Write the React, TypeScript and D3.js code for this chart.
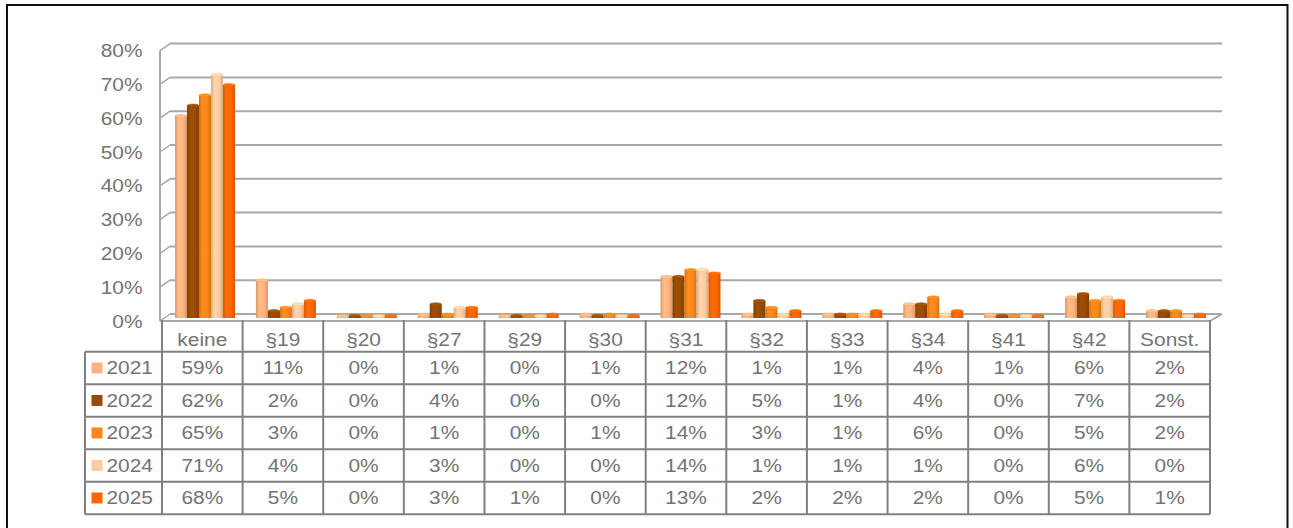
import React from "react";
import * as d3 from "d3";

const categories = ["keine", "§19", "§20", "§27", "§29", "§30", "§31", "§32", "§33", "§34", "§41", "§42", "Sonst."];
const years = ["2021", "2022", "2023", "2024", "2025"];
const v2021 = [59, 11, 0, 1, 0, 1, 12, 1, 1, 4, 1, 6, 2];
const v2022 = [62, 2, 0, 4, 0, 0, 12, 5, 1, 4, 0, 7, 2];
const v2023 = [65, 3, 0, 1, 0, 1, 14, 3, 1, 6, 0, 5, 2];
const v2024 = [71, 4, 0, 3, 0, 0, 14, 1, 1, 1, 0, 6, 0];
const v2025 = [68, 5, 0, 3, 1, 0, 13, 2, 2, 2, 0, 5, 1];
const seriesValues = [v2021, v2022, v2023, v2024, v2025];
const colors = ["#FFB381", "#984B00", "#FF8619", "#FFCBA0", "#FF6600"];
const yTicks = [0, 10, 20, 30, 40, 50, 60, 70, 80];

const W = 1293;
const H = 528;
const TEXT = "#737373";
const GRID = "#a8a8a8";
const TABLE = "#808080";
const FONT = "'Liberation Sans', Arial, sans-serif";
const FS = 18;
const SX = 1.16;

const tableLeft = 85;
const colLeft = 162;
const colRight = 1210;
const headerTop = 320;
const rowTop = 351.7;
const rowH = 32.5;
const dx = 10;
const dy = -7;

export default function App() {
  const x = d3.scaleBand<string>().domain(categories).range([colLeft, colRight]).padding(0);
  const yFront = d3.scaleLinear().domain([0, 80]).range([321, 50.6]);
  const yBar = d3.scaleLinear().domain([0, 80]).range([318, 44]);
  const bw = 12;
  const wallLeft = 160;

  const T = (tx: number, ty: number, s: string, anchor: string, key?: string) => (
    <text
      key={key}
      transform={`translate(${tx},${ty}) scale(${SX},1)`}
      textAnchor={anchor}
      fontFamily={FONT}
      fontSize={FS}
      fill={TEXT}
    >
      {s}
    </text>
  );

  return (
    <svg
      width={W}
      height={H}
      style={{ position: "absolute", left: 0, top: 0, background: "#fff" }}
    >
      <defs>
        {colors.map((c, i) => {
          const base = d3.color(c)!;
          return (
            <linearGradient id={`g${i}`} key={i} x1="0" x2="1" y1="0" y2="0">
              <stop offset="0" stopColor={base.darker(0.45).formatHex()} />
              <stop offset="0.3" stopColor={base.brighter(0.15).formatHex()} />
              <stop offset="0.7" stopColor={c} />
              <stop offset="1" stopColor={base.darker(0.5).formatHex()} />
            </linearGradient>
          );
        })}
      </defs>
      {/* outer frame */}
      <rect x={7} y={5} width={1280.5} height={530} fill="none" stroke="#111" strokeWidth={2} />

      {/* back wall gridlines and left wall */}
      {yTicks.map((t) => (
        <g key={t}>
          <line
            x1={wallLeft + dx}
            x2={colRight + 12}
            y1={yFront(t) + dy}
            y2={yFront(t) + dy}
            stroke={GRID}
            strokeWidth={2}
          />
          <line
            x1={wallLeft}
            x2={wallLeft + dx}
            y1={yFront(t)}
            y2={yFront(t) + dy}
            stroke={GRID}
            strokeWidth={1.5}
          />
        </g>
      ))}
      <line x1={wallLeft} x2={wallLeft} y1={yFront(80)} y2={yFront(0)} stroke={GRID} strokeWidth={2} />
      {/* floor */}
      <line x1={wallLeft} x2={colRight} y1={yFront(0)} y2={yFront(0)} stroke={GRID} strokeWidth={2} />
      <line x1={colRight} x2={colRight + 12} y1={yFront(0)} y2={yFront(0) + dy} stroke={GRID} strokeWidth={2} />

      {/* y labels */}
      {yTicks.map((t) => T(142.5, yFront(t) + 6.5, `${t}%`, "end", `yl${t}`))}

      {/* bars */}
      {categories.map((cat, ci) => {
        const x0 = (x(cat) as number) + 13 + ci * 0.3;
        return (
          <g key={cat}>
            {seriesValues.map((vals, si) => {
              const v = vals[ci];
              const top = Math.min(yBar(v), yBar(0) - 2);
              const bx = x0 + si * bw;
              const base = d3.color(colors[si])!;
              return (
                <g key={si}>
                  <rect x={bx} y={top} width={bw} height={yBar(0) - top} fill={`url(#g${si})`} />
                  <ellipse
                    cx={bx + bw / 2}
                    cy={top}
                    rx={bw / 2}
                    ry={1.6}
                    fill={base.brighter(0.3).formatHex()}
                    stroke={base.darker(0.2).formatHex()}
                    strokeWidth={0.5}
                  />
                </g>
              );
            })}
          </g>
        );
      })}

      {/* table header verticals */}
      {[...categories.map((c) => x(c) as number), colRight].map((xx, i) => (
        <line key={`hv${i}`} x1={xx} x2={xx} y1={headerTop} y2={rowTop} stroke={TABLE} strokeWidth={2} />
      ))}
      {categories.map((c) => T((x(c) as number) + x.bandwidth() / 2, 345.5, c, "middle", `h${c}`))}

      {/* table body */}
      {[0, 1, 2, 3, 4, 5].map((r) => (
        <line
          key={`rh${r}`}
          x1={tableLeft}
          x2={colRight}
          y1={rowTop + r * rowH}
          y2={rowTop + r * rowH}
          stroke={TABLE}
          strokeWidth={2}
        />
      ))}
      {[tableLeft, ...categories.map((c) => x(c) as number), colRight].map((xx, i) => (
        <line
          key={`bv${i}`}
          x1={xx}
          x2={xx}
          y1={rowTop}
          y2={rowTop + 5 * rowH}
          stroke={TABLE}
          strokeWidth={2}
        />
      ))}
      {years.map((yr, si) => {
        const cy = rowTop + si * rowH + rowH / 2;
        return (
          <g key={yr}>
            <rect x={91.5} y={cy - 5.5} width={11} height={11} fill={colors[si]} />
            {T(106.5, cy + 6.5, yr, "start")}
            {categories.map((c, ci) =>
              T((x(c) as number) + x.bandwidth() / 2, cy + 6.5, `${seriesValues[si][ci]}%`, "middle", `${yr}-${ci}`)
            )}
          </g>
        );
      })}
    </svg>
  );
}
